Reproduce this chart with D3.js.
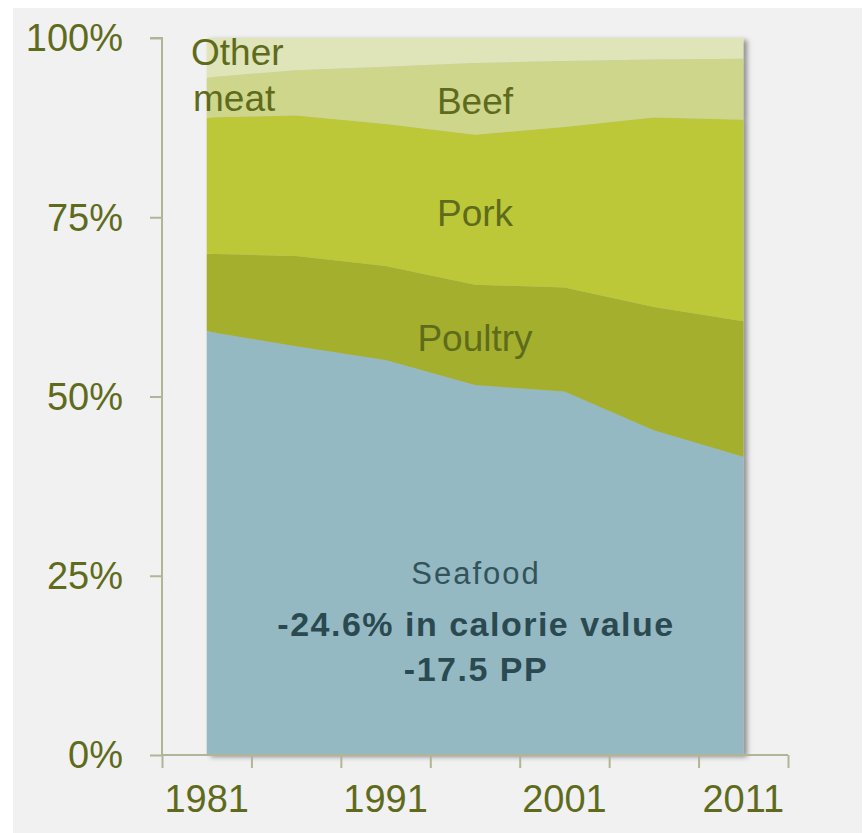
<!DOCTYPE html>
<html>
<head>
<meta charset="utf-8">
<script src="https://cdn.jsdelivr.net/npm/d3@7"></script>
<style>
html,body{margin:0;padding:0;background:#ffffff;}
svg{display:block;}
</style>
</head>
<body>
<svg id="chart" width="866" height="833"></svg>
<script>
// ---- data ----
const years = [1981, 1986, 1991, 1996, 2001, 2006, 2011];
const seafood   = [59.1, 57.0, 55.1, 51.6, 50.7, 45.3, 41.6];
const poultry   = [10.8, 12.6, 13.1, 14.0, 14.5, 17.2, 18.9];
const pork      = [19.0, 19.6, 19.8, 20.9, 22.4, 26.4, 28.1];
const beef      = [5.6, 6.3, 8.0, 10.0, 9.2, 8.1, 8.5];
const otherMeat = [5.5, 4.5, 4.0, 3.5, 3.2, 3.0, 2.9];
const seriesNames = ["Seafood", "Poultry", "Pork", "Beef", "Other meat"];
const seriesColors = ["#94b9c2", "#a5af2f", "#bcc837", "#cdd68b", "#dfe4b9"];
const yTickValues = [0, 25, 50, 75, 100];
const yTickLabels = ["0%", "25%", "50%", "75%", "100%"];
const xLabelYears = [1981, 1991, 2001, 2011];
const annotationLines = ["-24.6% in calorie value", "-17.5 PP"];

// ---- setup ----
const svg = d3.select("#chart");
const font = "'Liberation Sans', Arial, sans-serif";
const textColor = "#5f6b1c";
const axisColor = "#b1b497";

svg.append("rect").attr("x", 13).attr("y", 8).attr("width", 849).attr("height", 825).attr("fill", "#f1f1f1");

const defs = svg.append("defs");
const filt = defs.append("filter").attr("id", "shadow").attr("x", "-5%").attr("y", "-5%").attr("width", "115%").attr("height", "115%");
filt.append("feDropShadow").attr("dx", 4).attr("dy", 2).attr("stdDeviation", 2.5)
  .attr("flood-color", "#000").attr("flood-opacity", 0.4);

const x = d3.scaleLinear().domain([1978.5, 2013.5]).range([162, 788]);
const y = d3.scaleLinear().domain([0, 100]).range([755, 38]);

const table = years.map((yr, i) => ({
  year: yr,
  "Seafood": seafood[i], "Poultry": poultry[i], "Pork": pork[i],
  "Beef": beef[i], "Other meat": otherMeat[i]
}));
const stack = d3.stack().keys(seriesNames);
const layers = stack(table);

const area = d3.area()
  .x(d => x(d.data.year))
  .y0(d => y(d[0]))
  .y1(d => y(d[1]));

const g = svg.append("g").attr("filter", "url(#shadow)");
g.selectAll("path").data(layers).join("path")
  .attr("d", area)
  .attr("fill", (d, i) => seriesColors[i]);

// ---- axes ----
const yAxis = d3.axisLeft(y).tickValues(yTickValues).tickSize(12).tickFormat("");
const yG = svg.append("g").attr("transform", "translate(162,0)").call(yAxis);
yG.select(".domain").attr("stroke", axisColor).attr("stroke-width", 2).attr("d", "M-12,38H0V755");
yG.selectAll(".tick line").attr("stroke", axisColor).attr("stroke-width", 2);

svg.append("g").selectAll("text").data(yTickValues).join("text")
  .attr("x", 123).attr("y", d => y(d)).attr("dy", "0.35em")
  .attr("text-anchor", "end")
  .attr("font-family", font).attr("font-size", 38).attr("fill", textColor)
  .text((d, i) => yTickLabels[i]);

const xTickPos = d3.range(0, 8).map(k => 1978.5 + 5 * k);
const xAxis = d3.axisBottom(x).tickValues(xTickPos).tickSize(13).tickFormat("");
const xG = svg.append("g").attr("transform", "translate(0,755)").call(xAxis);
xG.select(".domain").attr("stroke", axisColor).attr("stroke-width", 2).attr("d", "M162,0H788");
xG.selectAll(".tick line").attr("stroke", axisColor).attr("stroke-width", 2);

svg.append("g").selectAll("text").data(xLabelYears).join("text")
  .attr("x", d => x(d)).attr("y", 812)
  .attr("text-anchor", "middle")
  .attr("font-family", font).attr("font-size", 38).attr("fill", textColor)
  .text(d => d);

// ---- series labels ----
const labelX = x(1996);
const lab = svg.append("g").attr("font-family", font).attr("fill", textColor).attr("font-size", 37);
lab.append("text").attr("x", 191).attr("y", 65).text("Other");
lab.append("text").attr("x", 193).attr("y", 111).text("meat");
lab.append("text").attr("x", labelX).attr("y", 114).attr("text-anchor", "middle").text("Beef");
lab.append("text").attr("x", labelX).attr("y", 226).attr("text-anchor", "middle").text("Pork");
lab.append("text").attr("x", labelX).attr("y", 351).attr("text-anchor", "middle").text("Poultry");

svg.append("text").attr("x", labelX + 1).attr("y", 584).attr("text-anchor", "middle")
  .attr("font-family", font).attr("font-size", 31).attr("letter-spacing", 2)
  .attr("fill", "#33535a").text("Seafood");

svg.append("g").selectAll("text").data(annotationLines).join("text")
  .attr("x", labelX + 1).attr("y", (d, i) => 636 + i * 45)
  .attr("text-anchor", "middle")
  .attr("font-family", font).attr("font-size", 34).attr("font-weight", "bold")
  .attr("letter-spacing", 1.5)
  .attr("fill", "#2b4950")
  .text(d => d);
</script>
</body>
</html>
